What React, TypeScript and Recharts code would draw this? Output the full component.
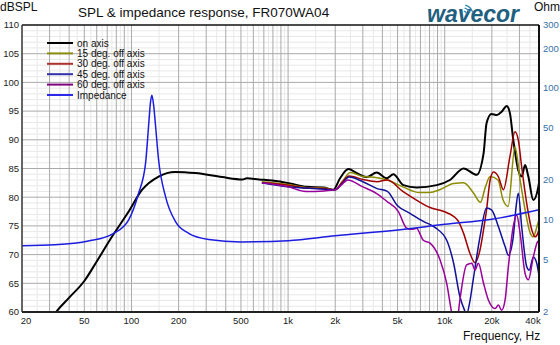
import React from 'react';
import { LineChart, Line, XAxis, YAxis, ReferenceLine } from 'recharts';

const FONT = '"Liberation Sans", Arial, sans-serif';

// axis ticks
const freqTicks = [20, 50, 100, 200, 500, 1000, 2000, 5000, 10000, 20000, 40000];
const splTicks = [60, 65, 70, 75, 80, 85, 90, 95, 100, 105, 110];
const ohmTicks = [2, 5, 10, 20, 50, 100, 200, 300];

// on axis response
const onAxisFreq = [30, 33, 40, 50, 60, 75, 96, 117, 149, 190, 256, 379, 512, 545, 651, 791, 1029, 1315, 1680, 1945, 2147, 2428, 2743, 3177, 3681, 4264, 4700, 5445, 6627, 8890, 10800, 13200, 16000, 17700, 18500, 19900, 21500, 23100, 24900, 26100, 27400, 29500, 31000, 32600, 34200, 36800, 39600, 40000];
const onAxisDb = [58.4, 60, 62.5, 65.4, 68.8, 73.1, 77.5, 81.3, 83.6, 84.4, 84.2, 83.5, 83.1, 83.3, 83.1, 82.9, 82.4, 81.8, 81.7, 81.3, 83.3, 84.9, 84.2, 83.5, 84.3, 83.3, 84.0, 82.1, 81.7, 82.1, 83.0, 85.0, 83.9, 87.6, 92.9, 94.5, 94.3, 94.9, 95.9, 94.6, 90.0, 84.7, 83.6, 85.6, 83.6, 79.5, 81.8, 82.5];

// 15 deg. off axis
const deg15Freq = [680, 1000, 1300, 1700, 2000, 2200, 2500, 3000, 3700, 4300, 5400, 6900, 8000, 9300, 11400, 13200, 15300, 16900, 18200, 19500, 21900, 23600, 25400, 28100, 30300, 32600, 35100, 36700, 39400, 40000];
const deg15Db = [82.7, 82.2, 81.7, 81.6, 81.3, 82.6, 84.3, 83.6, 83.4, 83.0, 81.8, 80.8, 80.8, 81.3, 82.4, 82.5, 80.7, 79.1, 81.8, 83.6, 83.0, 79.5, 78.4, 88.8, 83.0, 77.8, 73.8, 73.1, 75.5, 76.0];

// 30 deg. off axis
const deg30Freq = [680, 1000, 1300, 1700, 2000, 2200, 2450, 3000, 3700, 4300, 5400, 6600, 8060, 9900, 12100, 13200, 14500, 15600, 16800, 17700, 18500, 19500, 20500, 22000, 23700, 26100, 28100, 29500, 31000, 33400, 36000, 37800, 39400, 40000];
const deg30Db = [82.5, 82.1, 81.6, 81.5, 81.3, 82.5, 83.7, 83.1, 82.7, 83.0, 81.0, 79.5, 78.2, 77.5, 76.0, 73.7, 70.2, 68.6, 70.8, 74.3, 77.8, 83.0, 84.4, 83.6, 81.3, 87.1, 91.4, 90.0, 85.3, 78.9, 74.3, 73.1, 73.8, 74.5];

// 45 deg. off axis
const deg45Freq = [680, 1000, 1300, 1700, 2000, 2200, 2450, 3000, 3700, 4300, 5000, 6000, 7300, 8700, 10300, 11400, 12500, 13300, 13800, 14400, 15200, 16800, 18500, 19900, 22000, 24300, 25500, 27400, 28600, 29500, 31000, 33400, 34700, 36800, 38700, 40000];
const deg45Db = [82.5, 81.8, 81.6, 81.4, 81.3, 82.3, 83.5, 82.7, 81.5, 81.0, 78.5, 77.2, 75.8, 74.7, 72.5, 68.5, 62.7, 60.5, 59.6, 61.5, 65.6, 73.1, 78.1, 77.8, 74.9, 71.4, 69.9, 73.1, 78.5, 80.7, 74.9, 67.9, 67.3, 69.6, 68.5, 66.4];

// 60 deg. off axis
const deg60Freq = [680, 1000, 1300, 1700, 2000, 2200, 2400, 3000, 3700, 4260, 5060, 5720, 6200, 6600, 7300, 8060, 9330, 10300, 11100, 11800, 12500, 13800, 14900, 15600, 16400, 17700, 19000, 21000, 22000, 23100, 24300, 25500, 27400, 28800, 30300, 32600, 34200, 36800, 39100, 40000];
const deg60Db = [82.5, 81.8, 81.0, 81.1, 81.3, 82.2, 83.0, 81.8, 80.6, 79.3, 77.5, 74.6, 74.4, 74.6, 72.5, 72.0, 69.1, 65.0, 59.8, 57.0, 62.1, 68.2, 68.5, 67.3, 68.5, 65.0, 62.1, 60.6, 61.2, 60.3, 62.1, 67.9, 74.9, 76.9, 73.7, 66.7, 65.6, 69.6, 72.2, 72.5];

// impedance, ohm
const impFreq = [20, 32.6, 53, 77, 96, 111, 123, 129, 132, 135, 138.5, 142, 149, 165, 191, 232, 311, 500, 1000, 2000, 5000, 10000, 20000, 40000];
const impOhm = [6.37, 6.47, 6.9, 7.9, 10, 15.9, 26.8, 54, 76, 88, 74, 54, 28.4, 15, 9.7, 7.9, 7.1, 6.8, 6.95, 7.57, 8.37, 9.24, 10.1, 11.9];

const toPoints = (f: number[], v: number[]) => f.map((x, i) => ({ f: x, v: v[i] }));

const series = [
  { name: 'on axis', color: '#000000', legend: '#000000', width: 2, axis: 'spl', data: toPoints(onAxisFreq, onAxisDb) },
  { name: '15 deg. off axis', color: '#8c8c00', legend: '#8c8c10', width: 1.5, axis: 'spl', data: toPoints(deg15Freq, deg15Db) },
  { name: '30 deg. off axis', color: '#a00000', legend: '#b03030', width: 1.5, axis: 'spl', data: toPoints(deg30Freq, deg30Db) },
  { name: '45 deg. off axis', color: '#10109a', legend: '#3030a8', width: 1.5, axis: 'spl', data: toPoints(deg45Freq, deg45Db) },
  { name: '60 deg. off axis', color: '#990099', legend: '#800080', width: 1.5, axis: 'spl', data: toPoints(deg60Freq, deg60Db) },
  { name: 'Impedance', color: '#1c1ce0', legend: '#2a2ae8', width: 1.5, axis: 'imp', data: toPoints(impFreq, impOhm) },
];

// grid
const decades = [10, 100, 1000, 10000];
const minorLines = decades
  .flatMap((d) => [1, 2, 3, 4, 5, 6, 7, 8, 9].map((n) => n * d))
  .filter((v) => v > 20 && v < 40000);
const fineLines = decades
  .flatMap((d) => [1.5, 2.5, 3.5, 4.5, 5.5, 6.5, 7.5, 8.5, 9.5].map((n) => n * d))
  .filter((v) => v > 20 && v < 40000);
const dbFine: number[] = [];
for (let v = 61; v < 110; v++) if (v % 5 !== 0) dbFine.push(v);
const dbMajor = splTicks.filter((v) => v > 60 && v < 110);

const fmtFreq = (v: number) => (v >= 1000 ? `${v / 1000}k` : `${v}`);

const FreqTick = (props: any) => {
  const { x, y, payload } = props;
  const v = payload.value;
  const dx = v === 20 ? 4 : v === 40000 ? -6 : 0;
  return (
    <text x={x + dx} y={y} dy={9} textAnchor="middle" fontSize={9.5} fill="#222" fontFamily={FONT}>
      {fmtFreq(v)}
    </text>
  );
};

export default function App() {
  return (
    <div style={{ position: 'absolute', left: 0, top: 0, width: 560, height: 345, background: '#fff', fontFamily: FONT }}>
      <LineChart width={560} height={345} margin={{ top: 25, right: 0, bottom: 0, left: 0 }}>
        <XAxis
          dataKey="f"
          type="number"
          scale="log"
          domain={[20, 40000]}
          allowDataOverflow
          ticks={freqTicks}
          tick={<FreqTick />}
          tickLine={false}
          tickSize={0}
          tickMargin={3}
          height={33}
          axisLine={{ stroke: '#222', strokeWidth: 2 }}
        />
        <YAxis
          yAxisId="spl"
          type="number"
          domain={[60, 110]}
          allowDataOverflow
          ticks={splTicks}
          width={22}
          tickLine={false}
          tickSize={0}
          tickMargin={3}
          tick={{ fontSize: 9.5, fill: '#222' }}
          axisLine={{ stroke: '#333', strokeWidth: 1.5 }}
        />
        <YAxis
          yAxisId="imp"
          orientation="right"
          type="number"
          scale="log"
          domain={[2, 300]}
          allowDataOverflow
          ticks={ohmTicks}
          width={21}
          tickLine={false}
          tickSize={0}
          tickMargin={4}
          tick={{ fontSize: 9.5, fill: '#3a70a8', textAnchor: 'start' }}
          axisLine={{ stroke: '#111', strokeWidth: 2 }}
        />
        {dbFine.map((v) => (
          <ReferenceLine key={`hf${v}`} y={v} yAxisId="spl" stroke="#e8e8e8" strokeWidth={1} />
        ))}
        {fineLines.map((v) => (
          <ReferenceLine key={`vf${v}`} x={v} yAxisId="spl" stroke="#e8e8e8" strokeWidth={1} />
        ))}
        {dbMajor.map((v) => (
          <ReferenceLine key={`hm${v}`} y={v} yAxisId="spl" stroke="#aaaaaa" strokeWidth={1} />
        ))}
        {minorLines.map((v) => (
          <ReferenceLine key={`vm${v}`} x={v} yAxisId="spl" stroke="#aaaaaa" strokeWidth={1} />
        ))}
        <ReferenceLine y={110} yAxisId="spl" stroke="#111" strokeWidth={1.5} />
        {series.map((s) => (
          <Line
            key={s.name}
            data={s.data}
            dataKey="v"
            name={s.name}
            yAxisId={s.axis}
            type="monotone"
            stroke={s.color}
            strokeWidth={s.width}
            dot={false}
            isAnimationActive={false}
          />
        ))}
      </LineChart>
      <svg width={560} height={345} style={{ position: 'absolute', left: 0, top: 0, pointerEvents: 'none' }}>
        <text x={0} y={11} fontSize={12} fill="#111">dBSPL</text>
        <text x={78} y={17} fontSize={13.5} fill="#111">SPL &amp; impedance response, FR070WA04</text>
        <text x={534} y={11} fontSize={12} fill="#111">Ohm</text>
        <text x={427} y={22} fontSize={23} fontWeight="bold" fontStyle="italic" fill="#1f5f80">wavecor</text>
        {[4, 7, 10].map((r) => (
          <path
            key={r}
            d={`M ${463 + r * Math.cos(-1.35)} ${15 + r * Math.sin(-1.35)} A ${r} ${r} 0 0 1 ${463 + r * Math.cos(-0.3)} ${15 + r * Math.sin(-0.3)}`}
            fill="none"
            stroke="#3a8ab0"
            strokeWidth={1.3}
          />
        ))}
        <text x={463} y={340} fontSize={12} fill="#111">Frequency, Hz</text>
        {series.map((s, i) => (
          <g key={s.name}>
            <line x1={47} x2={73} y1={43 + i * 10.4} y2={43 + i * 10.4} stroke={s.legend} strokeWidth={2} />
            <text x={77} y={46.5 + i * 10.4} fontSize={10} fill="#111">{s.name}</text>
          </g>
        ))}
      </svg>
    </div>
  );
}
